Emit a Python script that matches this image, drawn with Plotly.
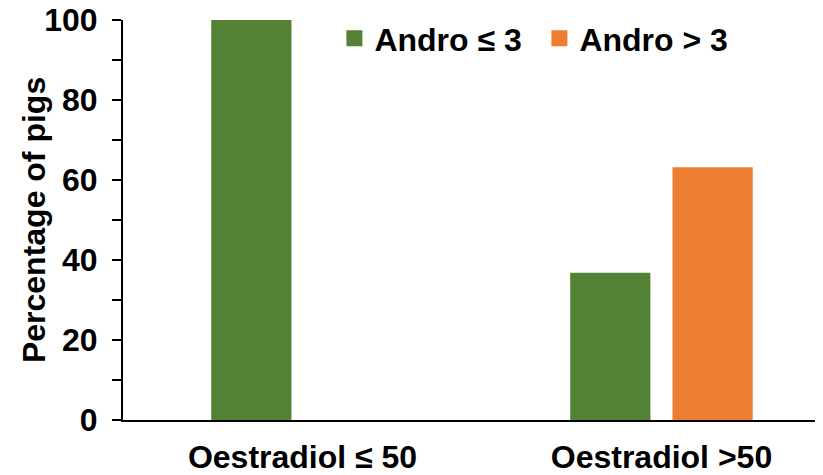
import plotly.graph_objects as go

categories = ["Oestradiol ≤ 50", "Oestradiol >50"]
andro_low = [100, 36.8]
andro_high = [None, 63.2]
series_names = ["Andro ≤ 3", "Andro > 3"]
colors = ["#548235", "#ED7D31"]
y_ticks = [0, 20, 40, 60, 80, 100]
y_title = "Percentage of pigs"

FONT = "Liberation Sans, Arial, sans-serif"
FS = 32

fig = go.Figure()
for name, vals, col in zip(series_names, [andro_low, andro_high], colors):
    fig.add_trace(go.Bar(x=categories, y=vals, name=name, marker_color=col,
                         marker_line_width=0, showlegend=False))
# legend proxies (square symbols)
for name, col in zip(series_names, colors):
    fig.add_trace(go.Scatter(x=[None], y=[None], mode="markers", name=name,
                             marker=dict(symbol="square", size=16, color=col),
                             showlegend=True))

# page body has an 8px default margin, so the figure is sized to fit the window
fig.update_layout(
    width=815, height=467,
    margin=dict(l=115, r=0, t=12, b=55),
    paper_bgcolor="white", plot_bgcolor="white",
    barmode="group", bargap=0.43, bargroupgap=0.216,
    font=dict(family=FONT, size=FS, color="black", weight="bold"),
    legend=dict(orientation="h", x=0.302, y=1.0225, xanchor="left", yanchor="top",
                font=dict(size=FS, family=FONT, weight="bold"),
                bgcolor="rgba(0,0,0,0)", itemwidth=30,
                entrywidth=160, entrywidthmode="pixels"),
    showlegend=True,
    annotations=[dict(text=y_title, textangle=-90, xref="paper", yref="paper",
                      x=-0.127, y=0.5, xanchor="center", yanchor="middle",
                      showarrow=False, font=dict(size=FS, family=FONT, weight="bold"))],
)
fig.update_xaxes(
    type="category", range=[-0.5, 1.45], showline=True, linecolor="black",
    linewidth=2, ticks="", showgrid=False, zeroline=False, automargin=False,
    tickfont=dict(size=FS, family=FONT, weight="bold"), ticklabelstandoff=8,
)
fig.update_yaxes(
    range=[0, 100], tickvals=y_ticks, showline=True, linecolor="black",
    linewidth=2, ticks="outside", ticklen=9, tickwidth=2, tickcolor="black",
    minor=dict(dtick=10, ticks="outside", ticklen=9, tickwidth=2, tickcolor="black", showgrid=False),
    showgrid=False, zeroline=False, automargin=False, ticklabeloverflow="allow",
    tickfont=dict(size=FS, family=FONT, weight="bold"), ticklabelstandoff=8,
)

fig.write_html("out.html")
